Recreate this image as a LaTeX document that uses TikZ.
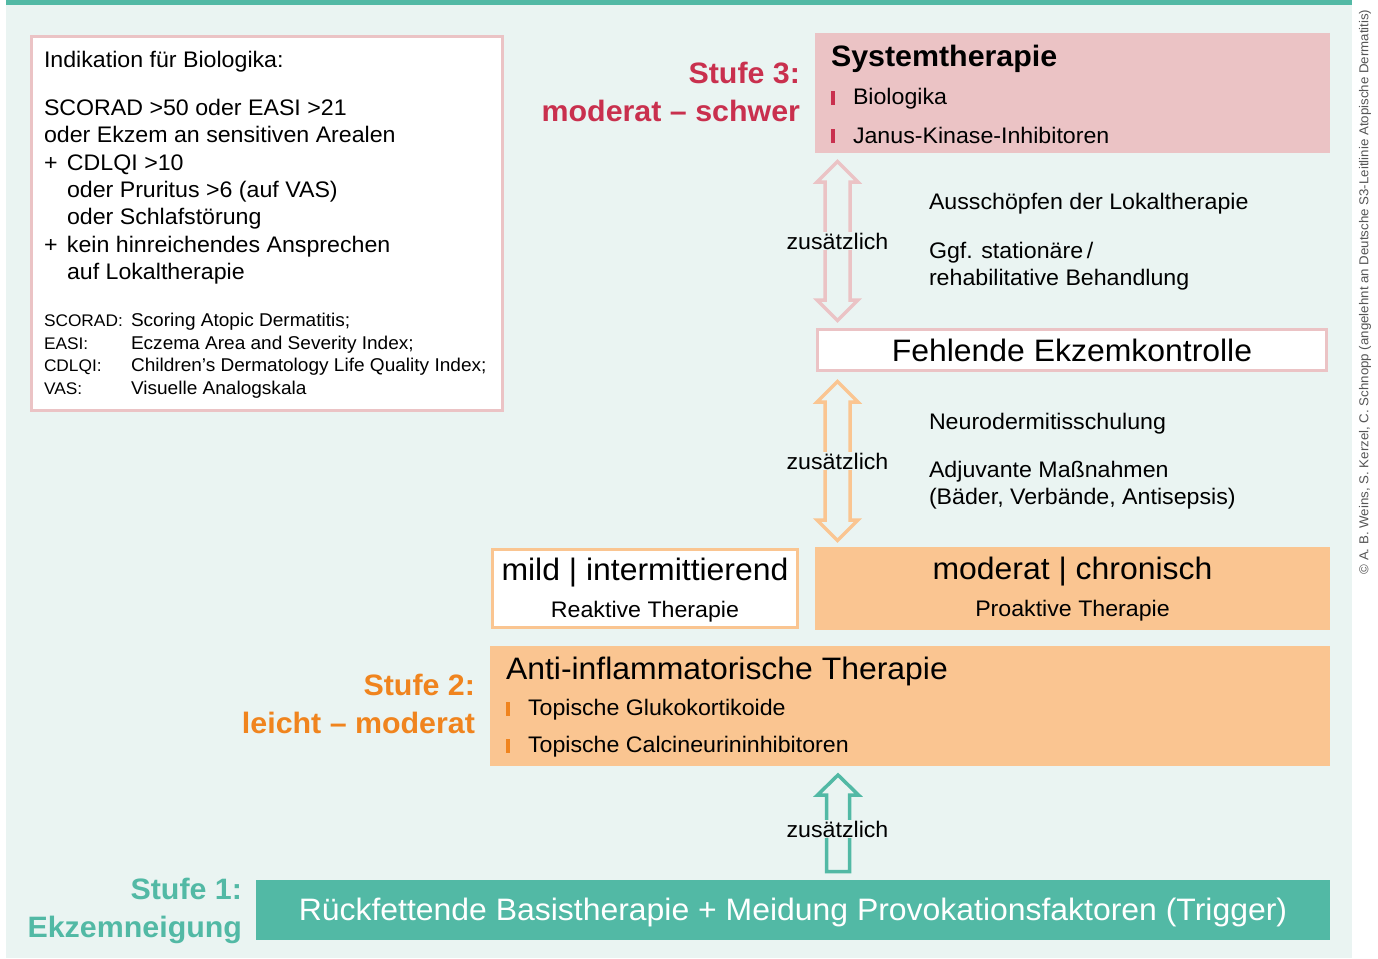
\documentclass[tikz,border=0pt]{standalone}
\usepackage{fontspec}
\setmainfont{Liberation Sans}[FakeStretch=1.03]
\usepackage{tikz}
\usetikzlibrary{positioning,calc}
\definecolor{BgMint}{HTML}{EAF4F2}
\definecolor{StufeTeal}{HTML}{52B9A5}
\definecolor{StufePink}{HTML}{EBC3C5}
\definecolor{StufeRed}{HTML}{C9304E}
\definecolor{StufeOrange}{HTML}{FAC591}
\definecolor{StufeOrangeText}{HTML}{F0841E}
\definecolor{NoteGray}{HTML}{555555}
\newcommand\abbrfont{\fontsize{16.8}{22.6}\selectfont}

\begin{document}
\begin{tikzpicture}[x=1pt, y=-1pt,
                    every node/.style={inner sep=0pt, outer sep=0pt},
                    bigfont/.style={font=\fontsize{31}{38}\selectfont},
                    midfont/.style={font=\fontsize{22.5}{27.3}\selectfont},
                    smallfont/.style={font=\fontsize{18.5}{22.6}\selectfont},
                    stufelabel/.style={font=\fontsize{29.5}{38}\selectfont\bfseries, align=right, anchor=east},
                    blockbox/.style={anchor=north west},
                    framebox/.style={anchor=north west, fill=white, line width=3pt},
                    hollow/.style={line width=3.5pt, line join=miter},
                    addlabel/.style={midfont, fill=BgMint, inner sep=1pt}]
\useasboundingbox (0,0) rectangle (1378,958);
\fill[BgMint] (6,5) rectangle (1352,958);
\fill[StufeTeal] (6,0) rectangle (1352,5);

% Indikation
\node[framebox, draw=StufePink, minimum width=471, minimum height=374] (ind) at (31.5,36.5) {};
\node[midfont, anchor=north west, align=left] (indtxt) at (44,51)
  {Indikation für Biologika:\\[21pt]
   SCORAD >50 oder EASI >21\\
   oder Ekzem an sensitiven Arealen\\
   \makebox[23pt][l]{+}CDLQI >10\\
   \makebox[23pt][l]{}oder Pruritus >6 (auf VAS)\\
   \makebox[23pt][l]{}oder Schlafstörung\\
   \makebox[23pt][l]{+}kein hinreichendes Ansprechen\\
   \makebox[23pt][l]{}auf Lokaltherapie};
\node[smallfont, anchor=north west, align=left] (abbr) at (44,313)
  {\makebox[87pt][l]{\abbrfont SCORAD:}Scoring Atopic Dermatitis;\\
   \makebox[87pt][l]{\abbrfont EASI:}Eczema Area and Severity Index;\\
   \makebox[87pt][l]{\abbrfont CDLQI:}Children’s Dermatology Life Quality Index;\\
   \makebox[87pt][l]{\abbrfont VAS:}Visuelle Analogskala};

% Stufe 3
\node[stufelabel, text=StufeRed] (stufe3) at (800,92) {Stufe 3:\\moderat – schwer};
\node[blockbox, fill=StufePink, minimum width=515, minimum height=120] (sys) at (815,33) {};
\node[font=\fontsize{29.5}{38}\selectfont\bfseries, anchor=west] (systitle) at (831,59) {Systemtherapie};
\node[midfont, anchor=west] (bio) at (831,99) {\textcolor{StufeRed}{\rule{4pt}{14pt}}\hspace{18pt}Biologika};
\node[midfont, anchor=west] (jak) at (831,135) {\textcolor{StufeRed}{\rule{4pt}{14pt}}\hspace{18pt}Janus-Kinase-Inhibitoren};

% Pfeil 3 -> Fehlende Ekzemkontrolle
\coordinate (a1) at (837.5,161.5);
\draw[hollow, draw=StufePink] (a1) -- ++(-20.5,20.5) -- ++(8,0) -- ++(0,118) -- ++(-8,0)
  -- ++(20.5,20.5) -- ++(20.5,-20.5) -- ++(-8,0) -- ++(0,-118) -- ++(8,0) -- cycle;
\node[addlabel] (zus1) at (837.5,241) {zusätzlich};
\node[midfont, anchor=west] (ausch) at (929,204) {Ausschöpfen der Lokaltherapie};
\node[midfont, anchor=north west, align=left] (stat) at (929,242) {Ggf. stationäre\,/\\rehabilitative Behandlung};

\node[framebox, draw=StufePink, minimum width=509, minimum height=41] (fehl) at (817.5,329.5) {};
\node[bigfont] at (fehl.center) {Fehlende Ekzemkontrolle};

% Pfeil 2
\coordinate (a2) at (837.5,381.5);
\draw[hollow, draw=StufeOrange] (a2) -- ++(-20.5,20.5) -- ++(8,0) -- ++(0,118) -- ++(-8,0)
  -- ++(20.5,20.5) -- ++(20.5,-20.5) -- ++(-8,0) -- ++(0,-118) -- ++(8,0) -- cycle;
\node[addlabel] (zus2) at (837.5,461) {zusätzlich};
\node[midfont, anchor=west] (schul) at (929,424) {Neurodermitisschulung};
\node[midfont, anchor=north west, align=left] (adj) at (929,461) {Adjuvante Maßnahmen\\(Bäder, Verbände, Antisepsis)};

% Stufe 2
\node[framebox, draw=StufeOrange, minimum width=305, minimum height=78] (mild) at (492.5,549.5) {};
\node[bigfont] at ($(mild.north)+(0,23)$) {mild | intermittierend};
\node[midfont] at ($(mild.north)+(0,62)$) {Reaktive Therapie};
\node[blockbox, fill=StufeOrange, minimum width=515, minimum height=83] (mod) at (815,547) {};
\node[bigfont] at ($(mod.north)+(0,25)$) {moderat | chronisch};
\node[midfont] at ($(mod.north)+(0,64)$) {Proaktive Therapie};

\node[blockbox, fill=StufeOrange, minimum width=840, minimum height=120] (anti) at (490,646) {};
\node[bigfont, anchor=west] (antititle) at (506,671) {Anti-inflammatorische Therapie};
\node[midfont, anchor=west] (gluko) at (506,710) {\textcolor{StufeOrangeText}{\rule{4pt}{14pt}}\hspace{18pt}Topische Glukokortikoide};
\node[midfont, anchor=west] (calci) at (506,747) {\textcolor{StufeOrangeText}{\rule{4pt}{14pt}}\hspace{18pt}Topische Calcineurininhibitoren};
\node[stufelabel, text=StufeOrangeText] (stufe2) at (475,704) {Stufe 2:\\leicht – moderat};

% Stufe 1
\coordinate (a3) at (838,775);
\draw[hollow, draw=StufeTeal] (a3) -- ++(-20.5,20) -- ++(9,0) -- ++(0,76.5) -- ++(23,0)
  -- ++(0,-76.5) -- ++(9,0) -- cycle;
\node[addlabel] (zus3) at (837.5,829) {zusätzlich};
\node[blockbox, fill=StufeTeal, minimum width=1074, minimum height=60] (basis) at (256,880) {};
\node[bigfont, text=white] at ($(basis.center)+(0,2)$) {Rückfettende Basistherapie + Meidung Provokationsfaktoren (Trigger)};
\node[stufelabel, text=StufeTeal] (stufe1) at (242,911) {Stufe 1:\\Ekzemneigung};

% Quelle
\node[rotate=90, font=\fontsize{12.9}{15}\selectfont, text=NoteGray] (quelle) at (1365,292)
  {© A. B. Weins, S. Kerzel, C. Schnopp (angelehnt an Deutsche S3-Leitlinie Atopische Dermatitis)};
\end{tikzpicture}
\end{document}
